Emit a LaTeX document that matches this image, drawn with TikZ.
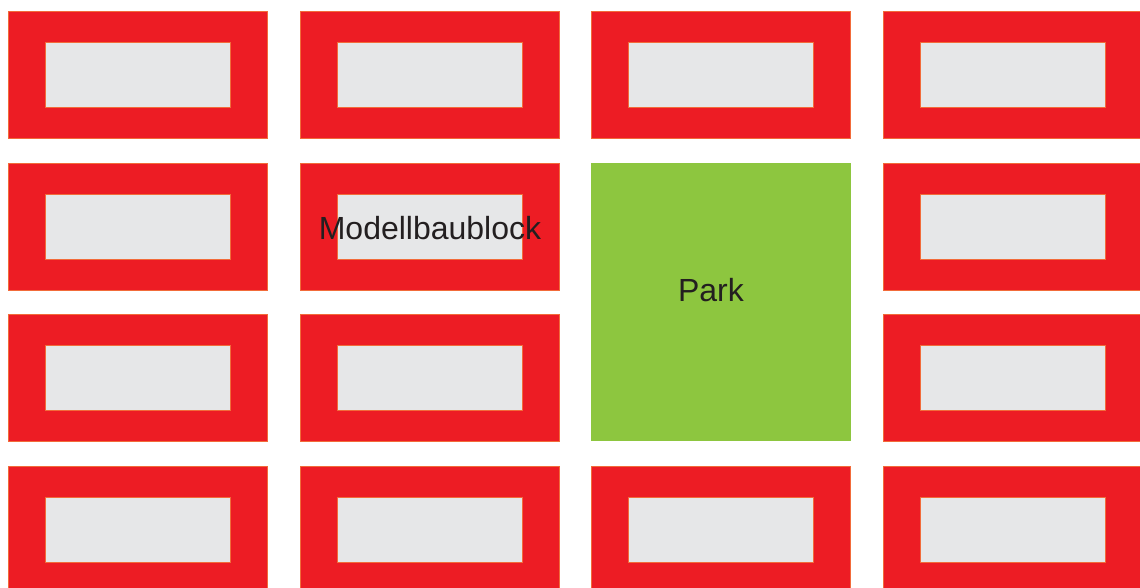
\documentclass[tikz,border=0pt]{standalone}
\usepackage{fontspec}
\setmainfont{Liberation Sans}
\definecolor{blockred}{HTML}{ED1C24}
\definecolor{parkgreen}{HTML}{8DC63F}
\definecolor{innergray}{HTML}{E6E7E8}
\definecolor{edgeorange}{HTML}{F26B3A}
\definecolor{labeltext}{HTML}{231F20}
\tikzset{
  block/.style={fill=blockred, draw=edgeorange, line width=0.6pt, minimum width=259pt, minimum height=127pt, inner sep=0pt, anchor=north west},
  court/.style={fill=innergray, draw=edgeorange, line width=0.8pt, minimum width=185pt, minimum height=65pt, inner sep=0pt, anchor=north west},
  park/.style={fill=parkgreen, draw=none, minimum width=260pt, minimum height=278pt, inner sep=0pt, anchor=north west},
  lbl/.style={font=\fontsize{32}{34}\selectfont, text=labeltext, inner sep=0pt, anchor=base}
}
\begin{document}
\begin{tikzpicture}[x=1pt,y=-1pt]
\useasboundingbox (0,0) rectangle (1140,588);
\fill[white] (0,0) rectangle (1140,588);
\begin{scope}
\clip (0,0) rectangle (1140,588);
\foreach \c/\x in {1/8,2/300,3/591,4/883}{
  \foreach \r/\y in {1/11,2/163,3/314,4/466}{
    \pgfmathtruncatemacro{\skip}{(\c==3 && (\r==2 || \r==3)) ? 1 : 0}
    \ifnum\skip=0
      \node[block] (b\c\r) at (\x,\y) {};
      \node[court] (g\c\r) at (\x+37,\y+31) {};
    \fi
  }
}
\node[park] (park) at (591,163) {};
\end{scope}
\node[lbl] (mlabel) at (430,240) {Modellbaublock};
\node[lbl] (plabel) at (711,301) {Park};
\end{tikzpicture}
\end{document}
